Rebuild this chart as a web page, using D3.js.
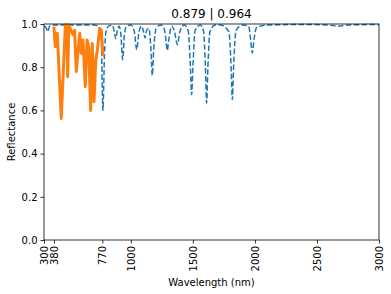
<!DOCTYPE html>
<html>
<head>
<meta charset="utf-8">
<script src="https://cdn.jsdelivr.net/npm/d3@7"></script>
<style>
  body { margin: 0; background: #fff; }
  svg { display: block; font-family: "DejaVu Sans", sans-serif; }
</style>
</head>
<body>
<div id="chart"></div>
<script>
"use strict";
const WIDTH = 391;
const HEIGHT = 294;
const MARGIN = {top: 24, right: 12, bottom: 54, left: 44};

const TITLE = "0.879 | 0.964";
const X_TICKS = [300, 380, 770, 1000, 1500, 2000, 2500, 3000];
const Y_TICKS = [0, 0.2, 0.4, 0.6, 0.8, 1.0];

// reference spectrum (dashed)
const refWavelength = [300, 315, 330, 345, 370, 420, 500, 600, 700, 740, 760, 775, 787, 800, 820,
    850, 865, 878, 891, 905, 920, 934, 948, 965, 1000, 1028, 1047, 1066, 1085, 1102, 1114, 1127,
    1145, 1162, 1173, 1184, 1205, 1240, 1270, 1284, 1294, 1304, 1330, 1352, 1375, 1395, 1430,
    1462, 1480, 1490, 1500, 1518, 1560, 1586, 1601, 1611, 1621, 1638, 1680, 1720, 1790, 1808,
    1818, 1828, 1848, 1900, 1950, 1965, 1979, 1993, 2015, 2100, 2400, 2600, 2670, 2750, 3000];
const refValue = [0.99, 0.985, 0.965, 0.99, 0.995, 0.995, 0.995, 0.995, 0.995, 0.99, 0.95, 0.60, 0.85, 0.965, 0.99,
    0.995, 0.97, 0.932, 0.97, 0.99, 0.95, 0.835, 0.95, 0.99, 0.995, 0.965, 0.881, 0.965, 0.99, 0.965, 0.935, 0.97,
    0.98, 0.88, 0.762, 0.88, 0.98, 0.995, 0.975, 0.92, 0.877, 0.92, 0.99, 0.965, 0.904, 0.965, 0.995,
    0.97, 0.80, 0.673, 0.80, 0.97, 0.995, 0.965, 0.80, 0.634, 0.80, 0.965, 0.995, 0.995, 0.965, 0.80,
    0.65, 0.80, 0.97, 0.995, 0.99, 0.93, 0.866, 0.93, 0.985, 0.995, 0.998, 0.995, 0.99, 0.995, 0.998];

// measured (solid, visible range)
const visWavelength = [380, 391, 407, 439, 472, 483, 491, 500, 534, 547, 560, 588, 601, 614,
    633, 647, 660, 676, 689, 703, 717, 730, 749, 762, 776];
const visValue = [0.988, 0.895, 0.957, 0.563, 0.995, 0.995, 0.756, 0.995, 0.95, 0.97, 0.78, 0.957, 0.864, 0.926,
    0.71, 0.926, 0.895, 0.60, 0.91, 0.64, 0.83, 0.88, 0.98, 0.97, 0.85];

const svg = d3.select("#chart").append("svg")
    .attr("width", WIDTH)
    .attr("height", HEIGHT);

const x = d3.scaleLinear().domain([300, 3000]).range([MARGIN.left, WIDTH - MARGIN.right]);
const y = d3.scaleLinear().domain([0, 1]).range([HEIGHT - MARGIN.bottom, MARGIN.top]);

const defs = svg.append("defs");
defs.append("clipPath").attr("id", "plot-area")
    .append("rect")
    .attr("x", MARGIN.left)
    .attr("y", MARGIN.top - 2)
    .attr("width", WIDTH - MARGIN.left - MARGIN.right)
    .attr("height", HEIGHT - MARGIN.top - MARGIN.bottom + 2);

const line = d3.line()
    .x(function (d) { return x(d[0]); })
    .y(function (d) { return y(d[1]); })
    .curve(d3.curveMonotoneX);

const plot = svg.append("g").attr("clip-path", "url(#plot-area)");

plot.append("path")
    .datum(d3.zip(refWavelength, refValue))
    .attr("d", line)
    .attr("fill", "none")
    .attr("stroke", "#1f77b4")
    .attr("stroke-width", 1.5)
    .attr("stroke-dasharray", "5.5,2.4");

plot.append("path")
    .datum(d3.zip(visWavelength, visValue))
    .attr("d", line.curve(d3.curveLinear))
    .attr("fill", "none")
    .attr("stroke", "#ff7f0e")
    .attr("stroke-width", 3)
    .attr("stroke-linejoin", "round");

// axes
const xAxis = svg.append("g")
    .attr("transform", "translate(0," + (HEIGHT - MARGIN.bottom) + ")")
    .call(d3.axisBottom(x).tickValues(X_TICKS).tickSize(3.5).tickSizeOuter(0).tickFormat(d3.format("d")));
xAxis.selectAll("text")
    .attr("transform", "rotate(-90)")
    .attr("x", -6)
    .attr("y", 0)
    .attr("dy", "0.35em")
    .style("text-anchor", "end");

const yAxis = svg.append("g")
    .attr("transform", "translate(" + MARGIN.left + ",0)")
    .call(d3.axisLeft(y).tickValues(Y_TICKS).tickSize(3.5).tickSizeOuter(0).tickFormat(d3.format(".1f")));

[xAxis, yAxis].forEach(function (g) {
    g.select(".domain").remove();
    g.selectAll("line").attr("stroke", "#000").attr("stroke-width", 0.8);
    g.selectAll("text").attr("fill", "#000").style("font-size", "10px")
        .style("font-family", "DejaVu Sans, sans-serif");
});

svg.append("rect")
    .attr("x", MARGIN.left)
    .attr("y", MARGIN.top)
    .attr("width", WIDTH - MARGIN.left - MARGIN.right)
    .attr("height", HEIGHT - MARGIN.top - MARGIN.bottom)
    .attr("fill", "none")
    .attr("stroke", "#000")
    .attr("stroke-width", 0.8);

svg.append("text")
    .attr("x", (MARGIN.left + WIDTH - MARGIN.right) / 2)
    .attr("y", MARGIN.top - 6)
    .attr("text-anchor", "middle")
    .style("font-size", "12px")
    .text(TITLE);

svg.append("text")
    .attr("x", (MARGIN.left + WIDTH - MARGIN.right) / 2)
    .attr("y", 286)
    .attr("text-anchor", "middle")
    .style("font-size", "10px")
    .text("Wavelength (nm)");

svg.append("text")
    .attr("transform", "translate(15," + ((MARGIN.top + HEIGHT - MARGIN.bottom) / 2) + ") rotate(-90)")
    .attr("text-anchor", "middle")
    .style("font-size", "10px")
    .text("Reflectance");
</script>
</body>
</html>
